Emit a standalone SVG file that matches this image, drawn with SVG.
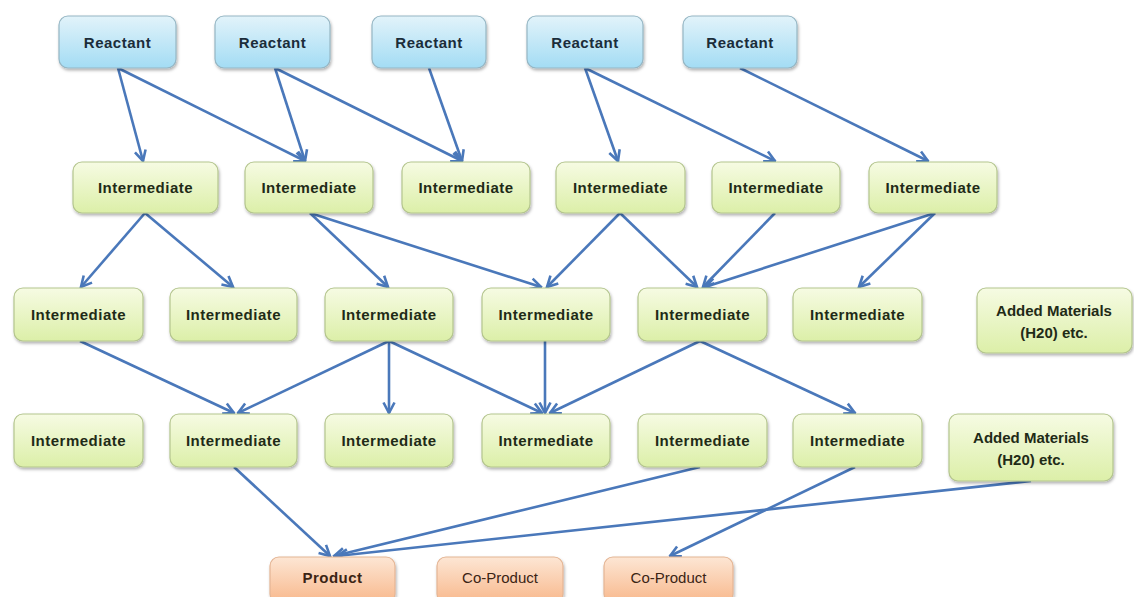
<svg xmlns="http://www.w3.org/2000/svg" width="1134" height="597" viewBox="0 0 1134 597">
<defs>
<linearGradient id="gR" x1="0" y1="0" x2="0" y2="1"><stop offset="0" stop-color="#e2f3fa"/><stop offset="1" stop-color="#a3dcf4"/></linearGradient>
<linearGradient id="gI" x1="0" y1="0" x2="0" y2="1"><stop offset="0" stop-color="#f6fbe3"/><stop offset="1" stop-color="#dcefa8"/></linearGradient>
<linearGradient id="gP" x1="0" y1="0" x2="0" y2="1"><stop offset="0" stop-color="#fde6d4"/><stop offset="1" stop-color="#f8b88c"/></linearGradient>
<filter id="sh" x="-10%" y="-10%" width="125%" height="140%"><feDropShadow dx="1" dy="2" stdDeviation="1.5" flood-color="#000" flood-opacity="0.3"/></filter>
<marker id="ah" viewBox="0 0 14 14" refX="12.5" refY="7" markerWidth="14" markerHeight="14" markerUnits="userSpaceOnUse" orient="auto"><path d="M2,1.5 L12.5,7 L2,12.5" fill="none" stroke="#4a78ba" stroke-width="2.6" stroke-linejoin="miter"/></marker>
<style>
.r{fill:url(#gR);stroke:#95b6c4;stroke-width:1.2;filter:url(#sh)}
.i{fill:url(#gI);stroke:#b4c58e;stroke-width:1.2;filter:url(#sh)}
.p{fill:url(#gP);stroke:#e4b594;stroke-width:1.2;filter:url(#sh)}
text{font-family:"Liberation Sans",Arial,sans-serif;font-size:15px;text-anchor:middle;dominant-baseline:central}
.b{font-weight:bold;letter-spacing:0.5px}
.tr{fill:#1b2d3a}.ti{fill:#1f2b17}.tp{fill:#3b2414}
.c line{stroke:#4a78ba;stroke-width:2.6;marker-end:url(#ah)}
</style>
</defs>
<rect width="1134" height="597" fill="#ffffff"/>
<g id="connectors" class="c">
<line x1="118" y1="68" x2="143" y2="161"/>
<line x1="118" y1="68" x2="305" y2="161"/>
<line x1="275" y1="68" x2="305" y2="161"/>
<line x1="275" y1="68" x2="462" y2="161"/>
<line x1="429" y1="68" x2="462" y2="161"/>
<line x1="585" y1="68" x2="618" y2="161"/>
<line x1="585" y1="68" x2="775" y2="161"/>
<line x1="740" y1="68" x2="928" y2="161"/>
<line x1="145" y1="213" x2="81" y2="287"/>
<line x1="145" y1="213" x2="233" y2="287"/>
<line x1="310" y1="213" x2="388" y2="287"/>
<line x1="310" y1="213" x2="541" y2="287"/>
<line x1="620" y1="213" x2="547" y2="287"/>
<line x1="620" y1="213" x2="697" y2="287"/>
<line x1="775" y1="213" x2="703" y2="287"/>
<line x1="935" y1="213" x2="705" y2="287"/>
<line x1="935" y1="213" x2="859" y2="287"/>
<line x1="80" y1="341" x2="234" y2="413"/>
<line x1="389" y1="341" x2="238" y2="413"/>
<line x1="389" y1="341" x2="389" y2="413"/>
<line x1="389" y1="341" x2="542" y2="413"/>
<line x1="545" y1="341" x2="545" y2="413"/>
<line x1="700" y1="341" x2="550" y2="413"/>
<line x1="700" y1="341" x2="855" y2="413"/>
<line x1="234" y1="467" x2="330" y2="556"/>
<line x1="700" y1="467" x2="334" y2="556"/>
<line x1="1031" y1="481" x2="337" y2="556"/>
<line x1="855" y1="467" x2="670" y2="556"/>
</g>
<g id="reactant1"><rect class="r" x="59" y="16" width="117" height="52" rx="9"/><text class="b tr" x="117.5" y="42">Reactant</text></g>
<g id="reactant2"><rect class="r" x="215" y="16" width="115" height="52" rx="9"/><text class="b tr" x="272.5" y="42">Reactant</text></g>
<g id="reactant3"><rect class="r" x="372" y="16" width="114" height="52" rx="9"/><text class="b tr" x="429" y="42">Reactant</text></g>
<g id="reactant4"><rect class="r" x="527" y="16" width="116" height="52" rx="9"/><text class="b tr" x="585" y="42">Reactant</text></g>
<g id="reactant5"><rect class="r" x="683" y="16" width="114" height="52" rx="9"/><text class="b tr" x="740" y="42">Reactant</text></g>

<g id="int2-1"><rect class="i" x="73" y="162" width="145" height="51" rx="9"/><text class="b ti" x="145.5" y="187.5">Intermediate</text></g>
<g id="int2-2"><rect class="i" x="245" y="162" width="128" height="51" rx="9"/><text class="b ti" x="309" y="187.5">Intermediate</text></g>
<g id="int2-3"><rect class="i" x="402" y="162" width="128" height="51" rx="9"/><text class="b ti" x="466" y="187.5">Intermediate</text></g>
<g id="int2-4"><rect class="i" x="556" y="162" width="129" height="51" rx="9"/><text class="b ti" x="620.5" y="187.5">Intermediate</text></g>
<g id="int2-5"><rect class="i" x="712" y="162" width="128" height="51" rx="9"/><text class="b ti" x="776" y="187.5">Intermediate</text></g>
<g id="int2-6"><rect class="i" x="869" y="162" width="128" height="51" rx="9"/><text class="b ti" x="933" y="187.5">Intermediate</text></g>

<g id="int3-1"><rect class="i" x="14" y="288" width="129" height="53" rx="9"/><text class="b ti" x="78.5" y="314.5">Intermediate</text></g>
<g id="int3-2"><rect class="i" x="170" y="288" width="127" height="53" rx="9"/><text class="b ti" x="233.5" y="314.5">Intermediate</text></g>
<g id="int3-3"><rect class="i" x="325" y="288" width="128" height="53" rx="9"/><text class="b ti" x="389" y="314.5">Intermediate</text></g>
<g id="int3-4"><rect class="i" x="482" y="288" width="128" height="53" rx="9"/><text class="b ti" x="546" y="314.5">Intermediate</text></g>
<g id="int3-5"><rect class="i" x="638" y="288" width="129" height="53" rx="9"/><text class="b ti" x="702.5" y="314.5">Intermediate</text></g>
<g id="int3-6"><rect class="i" x="793" y="288" width="129" height="53" rx="9"/><text class="b ti" x="857.5" y="314.5">Intermediate</text></g>
<g id="added3"><rect class="i" x="977" y="288" width="155" height="65" rx="9"/><text class="b ti" x="1054" y="310" style="letter-spacing:0">Added Materials</text><text class="b ti" x="1054" y="332" style="letter-spacing:0">(H20) etc.</text></g>

<g id="int4-1"><rect class="i" x="14" y="414" width="129" height="53" rx="9"/><text class="b ti" x="78.5" y="440.5">Intermediate</text></g>
<g id="int4-2"><rect class="i" x="170" y="414" width="127" height="53" rx="9"/><text class="b ti" x="233.5" y="440.5">Intermediate</text></g>
<g id="int4-3"><rect class="i" x="325" y="414" width="128" height="53" rx="9"/><text class="b ti" x="389" y="440.5">Intermediate</text></g>
<g id="int4-4"><rect class="i" x="482" y="414" width="128" height="53" rx="9"/><text class="b ti" x="546" y="440.5">Intermediate</text></g>
<g id="int4-5"><rect class="i" x="638" y="414" width="129" height="53" rx="9"/><text class="b ti" x="702.5" y="440.5">Intermediate</text></g>
<g id="int4-6"><rect class="i" x="793" y="414" width="129" height="53" rx="9"/><text class="b ti" x="857.5" y="440.5">Intermediate</text></g>
<g id="added4"><rect class="i" x="949" y="414" width="164" height="67" rx="9"/><text class="b ti" x="1031" y="437" style="letter-spacing:0">Added Materials</text><text class="b ti" x="1031" y="459" style="letter-spacing:0">(H20) etc.</text></g>

<g id="product"><rect class="p" x="270" y="557" width="125" height="46" rx="9"/><text class="b tp" x="332.5" y="577">Product</text></g>
<g id="coproduct1"><rect class="p" x="437" y="557" width="126" height="46" rx="9"/><text class="tp" x="500" y="577">Co-Product</text></g>
<g id="coproduct2"><rect class="p" x="604" y="557" width="129" height="46" rx="9"/><text class="tp" x="668.5" y="577">Co-Product</text></g>
</svg>
